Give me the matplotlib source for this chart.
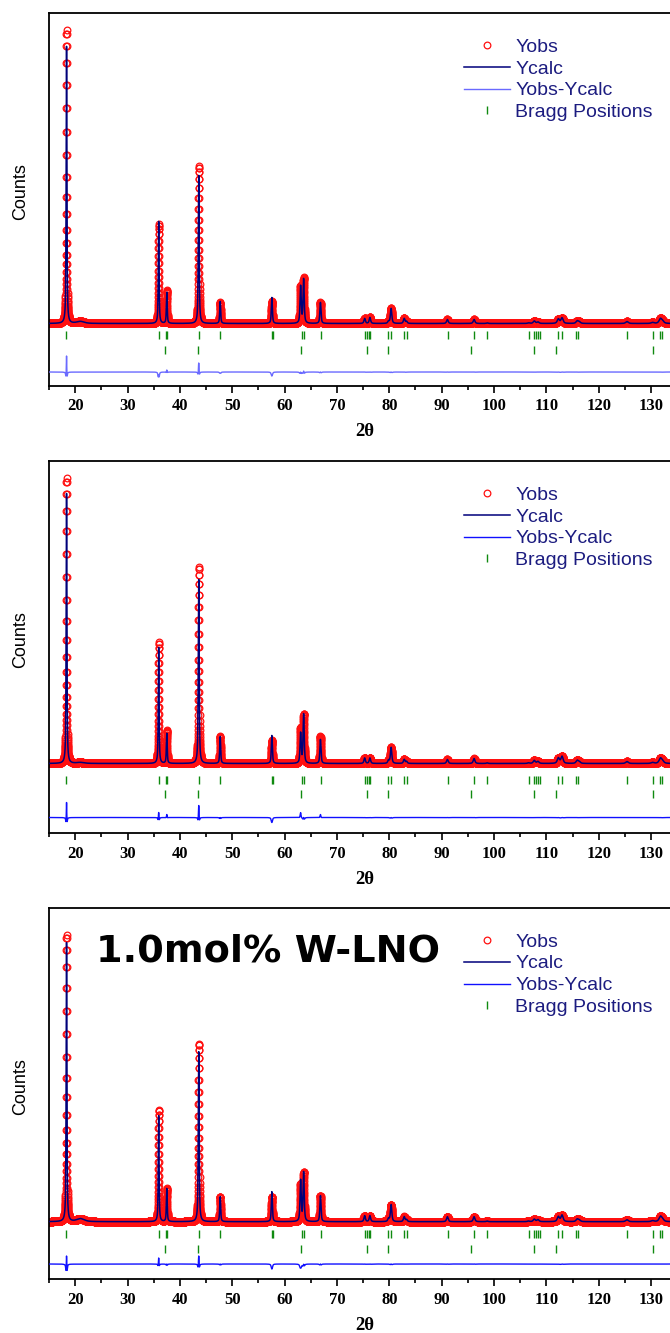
import numpy as np
import matplotlib
matplotlib.use('Agg')
import matplotlib.pyplot as plt
from matplotlib.ticker import MultipleLocator

# REFLECTIONS (2theta in deg, peak FWHM in deg)

peak_pos = [18.35, 21.0, 35.95, 37.5, 43.6, 47.7, 57.57, 63.06, 63.64, 66.85,
            75.3, 76.3, 79.85, 80.35, 82.85, 83.3, 91.1, 96.2, 98.7,
            106.6, 107.7, 108.4, 112.3, 113.0, 115.9, 116.3, 125.4,
            130.3, 131.8, 132.2]
peak_fwhm = [0.16, 1.6, 0.17, 0.18, 0.19, 0.2, 0.22, 0.24, 0.24, 0.24,
             0.3, 0.3, 0.3, 0.3, 0.32, 0.32, 0.34, 0.36, 0.36,
             0.42, 0.44, 0.44, 0.46, 0.46, 0.48, 0.48, 0.52,
             0.58, 0.58, 0.58]

# observed / calculated peak heights for the three samples
obs_a = [293, 2, 99, 33, 157, 21, 22, 37, 45, 21,
         5, 6, 2, 15, 5, 2, 4, 4, 0.6,
         0.6, 2.5, 1.5, 4.5, 5.5, 2.5, 1.5, 2,
         1, 4.5, 2]
calc_a = [277, 2, 102, 31, 148, 22, 26, 37, 44, 21,
          5, 6, 2, 15, 5, 2, 4, 4, 0.6,
          0.6, 2.5, 1.5, 4.5, 5.5, 2.5, 1.5, 2,
          1, 4.5, 2]
obs_b = [285, 1, 121, 33, 196, 27, 23, 35, 49, 27,
         5.5, 5.5, 3, 16, 4, 2, 4, 5, 0.6,
         0.6, 3, 2, 5.5, 7, 3, 1.5, 2,
         1, 5, 2]
calc_b = [270, 1, 116, 30, 184, 27, 28, 30, 49, 24,
          5.5, 5.5, 3, 16, 4, 2, 4, 5, 0.6,
          0.6, 3, 2, 5.5, 7, 3, 1.5, 2,
          1, 5, 2]
obs_c = [287, 3, 112, 33, 178, 25, 25, 37, 49, 26,
         6, 6, 3, 17, 5, 2, 5, 5, 0.6,
         0.6, 2.5, 2, 5, 6.5, 2.5, 1.5, 2,
         1, 5, 2]
calc_c = [279, 3, 106, 33, 170, 25, 30, 41, 49, 26,
          6, 6, 3, 17, 5, 2, 5, 5, 0.6,
          0.6, 2.5, 2, 5, 6.5, 2.5, 1.5, 2,
          1, 5, 2]

# Bragg positions: layered oxide (row 1) and rock-salt phase (row 2)
bragg_main = [18.3, 35.95, 37.3, 37.45, 43.6, 47.7, 57.55, 57.7, 63.3, 63.7,
              66.95, 75.35, 75.75, 76.1, 76.3, 79.85, 80.35, 82.9, 83.35,
              91.15, 96.2, 98.65, 106.6, 107.7, 107.95, 108.35, 108.8,
              112.3, 113.0, 115.75, 116.1, 125.4, 130.3, 131.8, 132.1]
bragg_second = [37.2, 43.4, 63.05, 75.75, 79.85, 95.7, 107.7, 111.9, 130.4]

legend_labels = ['Yobs', 'Ycalc', 'Yobs-Ycalc', 'Bragg Positions']
sample_label = '1.0mol% W-LNO'

OBS_RED = '#ff1010'
CALC_NAVY = '#00007a'
BRAGG_GREEN = '#108a10'
TEXT_NAVY = '#1c1c80'

TTH_MIN, TTH_MAX = 15.0, 138.5
PX_PER_DEG = 5.235


def profile(tth, heights, width_scale=1.0, eta=0.65):
    """ Sum of pseudo-Voigt peaks over the 2theta grid. """
    y = np.zeros_like(tth)
    for pos, fwhm, h in zip(peak_pos, peak_fwhm, heights):
        dx = 2 * (tth - pos) / (fwhm * width_scale)
        gauss = np.exp(-np.log(2) * dx ** 2)
        lorentz = 1 / (1 + dx ** 2)
        y += h * (eta * lorentz + (1 - eta) * gauss)
    return y


def draw_refinement(ax, tth, obs, calc, bragg_rows, diff_zero, diff_color):
    yobs = profile(tth, obs)
    ycalc = profile(tth, calc, width_scale=1.06)
    h_obs, = ax.plot(tth, yobs, 'o', ms=4.8, mfc='none', mec=OBS_RED,
                     mew=0.9, zorder=2)
    h_calc, = ax.plot(tth, ycalc, '-', color=CALC_NAVY, lw=1.1, zorder=3)
    h_diff, = ax.plot(tth, yobs - ycalc + diff_zero, '-', color=diff_color,
                      lw=1.0, zorder=3)
    h_bragg, = ax.plot(bragg_main, [bragg_rows[0]] * len(bragg_main), '|',
                       ms=6, mew=1.0, color=BRAGG_GREEN)
    ax.plot(bragg_second, [bragg_rows[1]] * len(bragg_second), '|',
            ms=6, mew=1.0, color=BRAGG_GREEN)
    return [h_obs, h_calc, h_diff, h_bragg]


# PLOT

fig = plt.figure(figsize=(6.7, 13.33), dpi=100)
tth = np.round(np.arange(TTH_MIN, 140.0, 0.01), 2)

axes_w_px = (TTH_MAX - TTH_MIN) * PX_PER_DEG
left = 49 / 670
width = axes_w_px / 670
panels = [
    dict(obs=obs_a, calc=calc_a, top=13, bottom=386, ylim=(-62.5, 310.5),
         bragg=(-11.5, -26.5), diff=-48.5, diff_color='#6a6aff'),
    dict(obs=obs_b, calc=calc_b, top=461, bottom=833, ylim=(-69.5, 302.5),
         bragg=(-16.5, -30.8), diff=-54.0, diff_color='#1010ff'),
    dict(obs=obs_c, calc=calc_c, top=908, bottom=1279, ylim=(-57.3, 313.7),
         bragg=(-12.3, -27.3), diff=-42.3, diff_color='#1010ff'),
]

for i, p in enumerate(panels):
    height_px = p['bottom'] - p['top']
    ax = fig.add_axes([left, 1 - p['bottom'] / 1333, width, height_px / 1333])
    handles = draw_refinement(ax, tth, p['obs'], p['calc'], p['bragg'],
                              p['diff'], p['diff_color'])
    ax.set_xlim(TTH_MIN, TTH_MAX)
    ax.set_ylim(*p['ylim'])

    # axes frame and ticks
    for spine in ax.spines.values():
        spine.set_linewidth(1.3)
    ax.set_yticks([])
    ax.xaxis.set_major_locator(MultipleLocator(10))
    ax.xaxis.set_minor_locator(MultipleLocator(5))
    ax.tick_params(axis='x', which='major', direction='out', length=5,
                   width=1.2, pad=4, labelsize=12)
    ax.tick_params(axis='x', which='minor', direction='out', length=3,
                   width=1.2)
    for lbl in ax.get_xticklabels():
        lbl.set_fontfamily('Liberation Serif')
        lbl.set_fontweight('bold')

    ax.set_xlabel('2\u03b8', fontfamily='Liberation Serif', fontweight='bold',
                  fontsize=13.5, labelpad=7)
    ax.xaxis.set_label_coords((365 - 49) / axes_w_px, -46 / height_px)
    ax.xaxis.label.set_va('center')
    ax.set_ylabel('Counts', fontfamily='Liberation Sans', fontsize=13)
    ax.yaxis.set_label_coords(-0.031, 0.52)

    # legend
    lg = ax.legend(handles, legend_labels, loc='upper left',
                   bbox_to_anchor=((464 - 49) / axes_w_px,
                                   1 - 25 / height_px),
                   frameon=False, borderpad=0, borderaxespad=0,
                   handlelength=2.37, handletextpad=0.26, labelspacing=0.22,
                   numpoints=1,
                   prop={'family': 'Liberation Sans', 'size': 14})
    for txt in lg.get_texts():
        txt.set_color(TEXT_NAVY)

    if i == 2:
        ax.text((96 - 49) / axes_w_px, (p['bottom'] - 962) / height_px,
                sample_label, transform=ax.transAxes, va='baseline',
                ha='left', fontfamily='DejaVu Sans', fontweight='bold',
                fontsize=27.5, color='black')

fig.savefig('out.png', dpi=100)
